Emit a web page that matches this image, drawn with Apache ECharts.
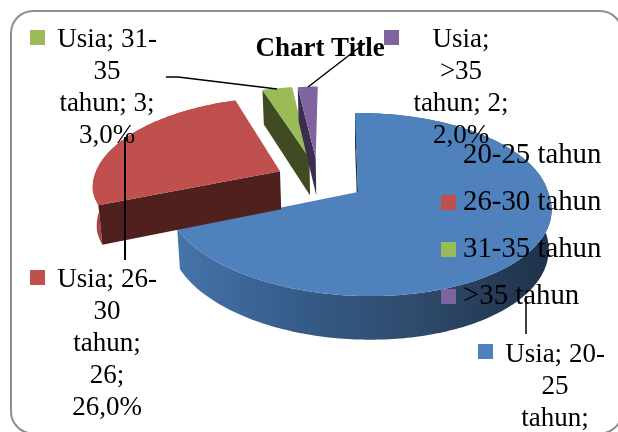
<!DOCTYPE html>
<html lang="en">
<head>
    <meta charset="UTF-8">
    <title>Usia</title>
    <script src="https://cdn.jsdelivr.net/npm/echarts@6/dist/echarts.min.js"></script>
    <style>
        html, body { margin: 0; padding: 0; background: #fff; }
        #container { width: 618px; height: 432px; overflow: hidden; }
    </style>
</head>
<body>
<div id="container"></div>

<script type="text/javascript">
    // data
    var seriesName = 'Usia';
    var categories = ['20-25 tahun', '26-30 tahun', '31-35 tahun', '>35 tahun'];
    var values = [69, 26, 3, 2];

    // look
    var fontName = '"Liberation Serif", serif';
    var topColors = ['#4f81bd', '#c0504d', '#9bbb59', '#8064a2'];
    var cutColors = ['#1f3350', '#4f201d', '#404b23', '#3a2d4d'];
    // how far each slice is pulled away from the middle, in pie radii
    var explodeX = [0, -0.424, -0.27, -0.235];
    var explodeY = [0, 0.24, 0.40, 0.40];
    // where each data label sits: marker corner, text centre, text middle
    var labelSpots = [
        { mx: 478, my: 344, tx: 555, ty: 419 },
        { mx: 30, my: 270, tx: 107, ty: 344 },
        { mx: 30, my: 30, tx: 107, ty: 88 },
        { mx: 384, my: 30, tx: 461, ty: 88 }
    ];
    var leaderLines = [
        { w: 1.5, pts: [[526, 296], [526, 334]] },
        { w: 2, pts: [[125, 137], [125, 260]] },
        { w: 1.5, pts: [[166, 77], [178, 77], [277, 89]] },
        { w: 1.5, pts: [[308, 87], [365, 43]] }
    ];

    // fake 3D pie
    var cx = 358, cy = 192, rx = 190, ry = 89.8, persp = 0.137, depth = 39, floorScale = 0.985, lean = 0.12;
    var startAngle = -1;
    var total = values.reduce(function (a, b) { return a + b; }, 0);

    function project(a, b, low) {
        var s = 1 / (1 + persp * b);
        var y = -ry * b * s;
        var x = rx * a * s + lean * Math.max(0, y);
        if (low) {
            return [cx + x * floorScale, cy + y * floorScale + depth * s];
        }
        return [cx + x, cy + y];
    }

    function sliceItem(idx) {
        return function (params, api) {
            var before = 0;
            for (var i = 0; i < idx; i++) before += values[i];
            var from = startAngle + before / total * 360;
            var to = from + api.value(0) / total * 360;
            var ox = explodeX[idx], oy = explodeY[idx];
            var topArc = [], lowArc = [];
            for (var d = from; ; d += 1) {
                var ang = Math.min(d, to) * Math.PI / 180;
                var a = Math.sin(ang) + ox, b = Math.cos(ang) + oy;
                topArc.push(project(a, b, false));
                lowArc.push(project(a, b, true));
                if (d >= to) break;
            }
            var apexTop = project(ox, oy, false), apexLow = project(ox, oy, true);
            var kids = [];
            // the two small back slices show no outer rim
            if (idx < 2) {
                var rimFill = idx === 0
                    ? new echarts.graphic.LinearGradient(178, 0, 550, 0, [
                        { offset: 0, color: '#4673ab' },
                        { offset: 0.35, color: '#345a86' },
                        { offset: 0.65, color: '#2f4a6b' },
                        { offset: 1, color: '#1e3149' }
                    ], true)
                    : '#a84542';
                kids.push({ type: 'polygon', shape: { points: topArc.concat(lowArc.slice().reverse()) }, style: { fill: rimFill } });
            }
            // only the cut on the starting edge faces the viewer
            kids.push({ type: 'polygon', shape: { points: [apexTop, topArc[0], lowArc[0], apexLow] }, style: { fill: cutColors[idx] } });
            kids.push({ type: 'polygon', shape: { points: [apexTop].concat(topArc) }, style: { fill: topColors[idx] } });
            return { type: 'group', children: kids };
        };
    }

    function labelText(i) {
        var m = categories[i].match(/^(\d+-)?(\S+) (.*)$/);
        var pct = (values[i] / total * 100).toFixed(1).replace('.', ',') + '%';
        var lines = [seriesName + ';' + (m[1] ? ' ' + m[1] : ''), m[2]];
        if (values[i] < 10) {
            lines.push(m[3] + '; ' + values[i] + ';');
        } else {
            lines.push(m[3] + ';', values[i] + ';');
        }
        lines.push(pct);
        return lines.join('\n');
    }

    function labelsItem() {
        var kids = [];
        leaderLines.forEach(function (l) {
            kids.push({ type: 'polyline', shape: { points: l.pts }, style: { fill: null, stroke: '#000', lineWidth: l.w } });
        });
        categories.forEach(function (c, i) {
            var p = labelSpots[i];
            kids.push({ type: 'rect', shape: { x: p.mx, y: p.my, width: 15, height: 15 }, style: { fill: topColors[i] } });
            kids.push({
                type: 'text',
                style: {
                    x: p.tx, y: p.ty, text: labelText(i), fill: '#000',
                    font: '27px ' + fontName, lineHeight: 32, align: 'center', verticalAlign: 'middle'
                }
            });
        });
        return { type: 'group', children: kids };
    }

    var seriesList = categories.map(function (c, i) {
        return {
            name: c,
            type: 'custom',
            coordinateSystem: 'none',
            silent: true,
            clip: false,
            z: 2 + i,
            renderItem: sliceItem(i),
            data: [[values[i]]]
        };
    });
    seriesList.push({
        name: 'labels',
        type: 'custom',
        coordinateSystem: 'none',
        silent: true,
        z: 3 + categories.length,
        renderItem: labelsItem,
        data: [[0]]
    });

    var myChart = echarts.init(document.getElementById('container'), null, { renderer: 'canvas' });
    myChart.setOption({
        animation: false,
        backgroundColor: '#fff',
        color: topColors,
        title: {
            text: 'Chart Title',
            left: 320,
            top: 36,
            textAlign: 'center',
            z: 1,
            padding: 0,
            textStyle: { fontFamily: fontName, fontSize: 27, fontWeight: 'bold', color: '#000' }
        },
        legend: {
            data: categories,
            orient: 'vertical',
            left: 441,
            top: 141,
            padding: 0,
            itemWidth: 15,
            itemHeight: 15,
            itemGap: 18,
            icon: 'rect',
            selectedMode: false,
            z: 20,
            textStyle: { fontFamily: fontName, fontSize: 28.8, color: '#000', padding: [0, 0, 0, 2] }
        },
        graphic: [{
            type: 'rect',
            silent: true,
            z: 0,
            shape: { x: 11, y: 11, width: 611, height: 422.5, r: 22 },
            style: { fill: '#fff', stroke: '#8e8e8e', lineWidth: 2 }
        }],
        series: seriesList
    });
</script>
</body>
</html>
